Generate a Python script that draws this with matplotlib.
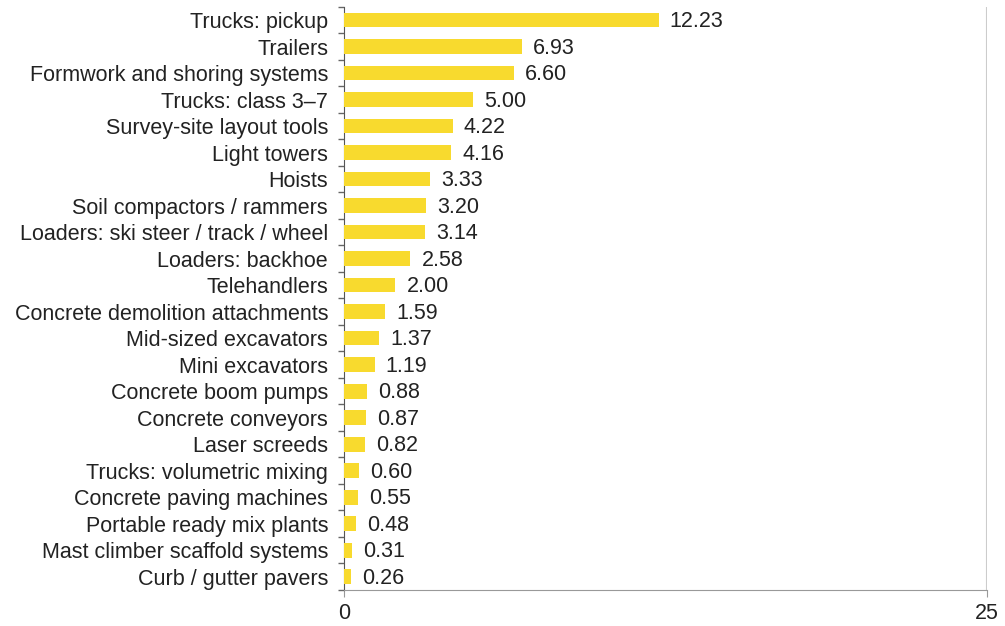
import numpy as np
import matplotlib
matplotlib.use("Agg")
import matplotlib.pyplot as plt

plt.rcParams["font.family"] = ["Liberation Sans", "DejaVu Sans"]

equipment = [
    "Trucks: pickup", "Trailers", "Formwork and shoring systems", "Trucks: class 3\u20137",
    "Survey-site layout tools", "Light towers", "Hoists", "Soil compactors / rammers",
    "Loaders: ski steer / track / wheel", "Loaders: backhoe", "Telehandlers",
    "Concrete demolition attachments", "Mid-sized excavators", "Mini excavators",
    "Concrete boom pumps", "Concrete conveyors", "Laser screeds",
    "Trucks: volumetric mixing", "Concrete paving machines", "Portable ready mix plants",
    "Mast climber scaffold systems", "Curb / gutter pavers",
]
values = [12.23, 6.93, 6.60, 5.00, 4.22, 4.16, 3.33, 3.20, 3.14, 2.58, 2.00,
          1.59, 1.37, 1.19, 0.88, 0.87, 0.82, 0.60, 0.55, 0.48, 0.31, 0.26]
x_ticks = [0, 25]

BAR = "#F8DA2E"
TXT = "#222222"

fig = plt.figure(figsize=(10.05, 6.26), dpi=100)
ax = fig.add_axes([0.3423, 0.0575, 0.982 - 0.3423, 0.989 - 0.0575])

y = np.arange(len(equipment))
ax.barh(y, values, height=0.55, color=BAR, zorder=3)
for yi, v in zip(y, values):
    ax.annotate(f"{v:.2f}", (v, yi), xytext=(8, -1), textcoords="offset points",
                va="center", ha="left", fontsize=15.5, color=TXT)

ax.set_ylim(len(equipment) - 0.5, -0.5)
ax.set_xlim(0, 25)
ax.set_yticks(y)
ax.set_yticklabels(equipment, fontsize=15.5, color=TXT)
ax.set_yticks(np.arange(len(equipment) + 1) - 0.5, minor=True)
ax.tick_params(axis="y", which="major", length=0, pad=11.5)
ax.tick_params(axis="y", which="minor", length=4, color="#666666", width=1)

ax.set_xticks(x_ticks)
ax.set_xticklabels([str(t) for t in x_ticks], fontsize=15.5, color=TXT)
ax.tick_params(axis="x", length=5, color="#999999", pad=4)

ax.axvline(25, color="#cccccc", lw=1.5, zorder=1)
for s in ["top", "right"]:
    ax.spines[s].set_visible(False)
ax.spines["left"].set_color("#555555")
ax.spines["bottom"].set_color("#999999")

fig.savefig("out.png", dpi=100)
